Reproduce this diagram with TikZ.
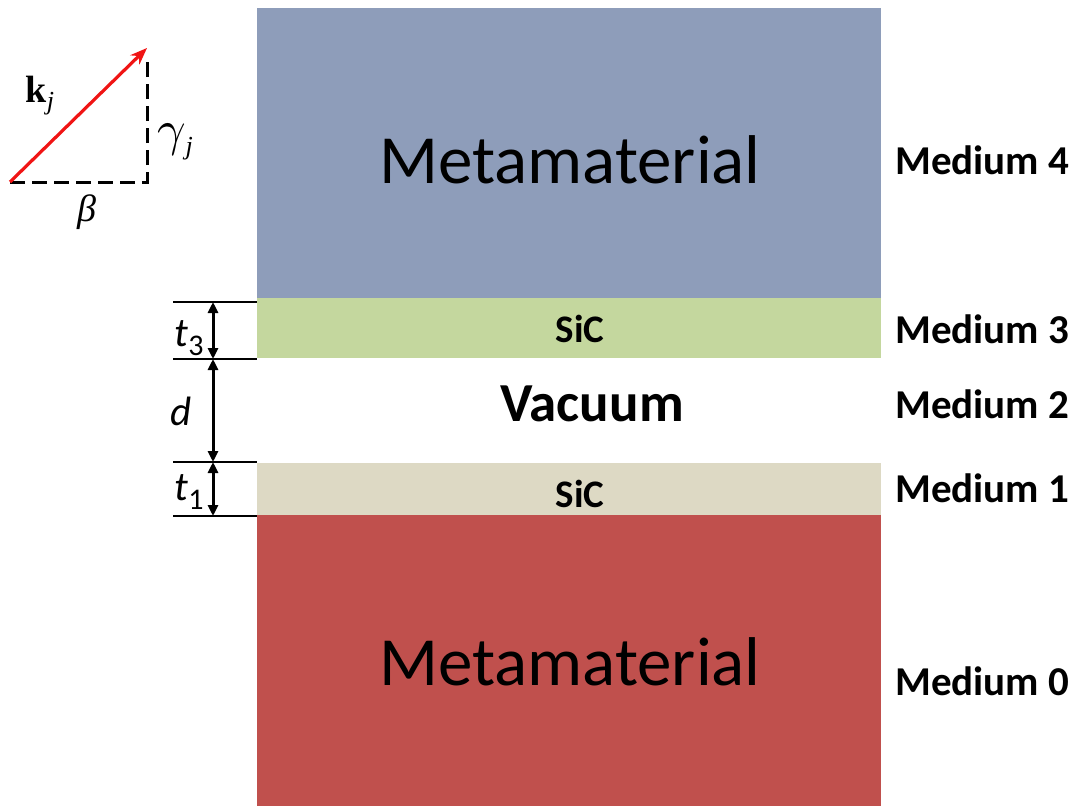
\documentclass[tikz,border=0pt]{standalone}
\usepackage{graphicx}
\usepackage{fontspec}
\setmainfont{Carlito}
\newfontfamily\symfont{Liberation Serif}
\usetikzlibrary{arrows.meta}
\definecolor{metablue}{RGB}{142,157,186}
\definecolor{sicgreen}{RGB}{196,215,158}
\definecolor{sicbeige}{RGB}{221,217,196}
\definecolor{metared}{RGB}{192,80,77}
\definecolor{kred}{RGB}{240,20,20}
\tikzset{
  bigtext/.style={font=\fontsize{69}{69}\selectfont, anchor=base, inner sep=0pt},
  midtext/.style={font=\bfseries\fontsize{55}{55}\selectfont, anchor=base, inner sep=0pt},
  sictext/.style={font=\bfseries\fontsize{39}{39}\selectfont, anchor=base, inner sep=0pt},
  medlabel/.style={font=\bfseries\fontsize{41}{41}\selectfont, anchor=base west, inner sep=0pt},
  dimtext/.style={font=\fontsize{41}{41}\selectfont, inner sep=0pt},
  symtext/.style={font=\symfont\fontsize{38}{38}\selectfont, inner sep=0pt},
  tick/.style={line width=2pt},
  dimarrow/.style={line width=3pt, {Triangle[length=11pt,width=10pt]}-{Triangle[length=11pt,width=10pt]}},
  dashline/.style={line width=3pt, dash pattern=on 15pt off 7pt},
  karrow/.style={kred, line width=3.2pt, -{Stealth[length=17pt,width=13pt]}}
}
\begin{document}
\begin{tikzpicture}[x=1pt,y=-1pt]
\useasboundingbox (0,0) rectangle (1077,806);

% material layers
\fill[metablue] (257,8) rectangle (881,298);
\fill[sicgreen] (257,298) rectangle (881,358);
\fill[sicbeige] (257,463) rectangle (881,515);
\fill[metared]  (257,515) rectangle (881,806);

% layer labels
\node[bigtext] (mtop) at (570,183) {Metamaterial};
\node[sictext] (sictop) at (580,342) {SiC};
\node[midtext] (vac) at (592,421) {Vacuum};
\node[sictext] (sicbot) at (580,507) {SiC};
\node[bigtext] (mbot) at (570,685) {Metamaterial};

% medium labels
\node[medlabel] (m4) at (895,174) {Medium 4};
\node[medlabel] (m3) at (895,343) {Medium 3};
\node[medlabel] (m2) at (895,418) {Medium 2};
\node[medlabel] (m1) at (895,502) {Medium 1};
\node[medlabel] (m0) at (895,695) {Medium 0};

% thickness markers
\coordinate (h1l) at (173,302); \coordinate (h1r) at (257,302);
\coordinate (h2l) at (173,359); \coordinate (h2r) at (257,359);
\coordinate (h3l) at (173,462); \coordinate (h3r) at (257,462);
\coordinate (h4l) at (173,516); \coordinate (h4r) at (257,516);
\draw[tick] (h1l) -- (h1r);
\draw[tick] (h2l) -- (h2r);
\draw[tick] (h3l) -- (h3r);
\draw[tick] (h4l) -- (h4r);
\coordinate (a1) at (213,302);
\coordinate (a2) at (213,359);
\coordinate (a3) at (213,462);
\coordinate (a4) at (213,516);
\draw[dimarrow] (a1) -- (a2);
\draw[dimarrow] (a2) -- (a3);
\draw[dimarrow] (a3) -- (a4);
\node[dimtext] (t3) at (189,338) {\itshape t\raisebox{-9pt}{\upshape\fontsize{30}{30}\selectfont 3}};
\node[dimtext] (dd) at (181,411) {\itshape d};
\node[dimtext] (t1) at (189,492) {\itshape t\raisebox{-9pt}{\upshape\fontsize{30}{30}\selectfont 1}};

% wave vector triangle
\coordinate (o) at (10,182);
\coordinate (b) at (147,182);
\coordinate (c) at (147,58);
\coordinate (k) at (147,48);
\draw[dashline] (o) -- (b) -- (c);
\draw[karrow] (o) -- (k);
\node[symtext] (klab) at (40,96) {\bfseries k\raisebox{-7pt}{\mdseries\itshape\fontsize{26}{26}\selectfont j}};
\node[symtext] (glab) at (175,142) {\scalebox{5}{\normalsize$\gamma$}\raisebox{-9pt}{\itshape\fontsize{26}{26}\selectfont j}};
\node[symtext] (blab) at (87,212) {\itshape β};
\end{tikzpicture}
\end{document}
